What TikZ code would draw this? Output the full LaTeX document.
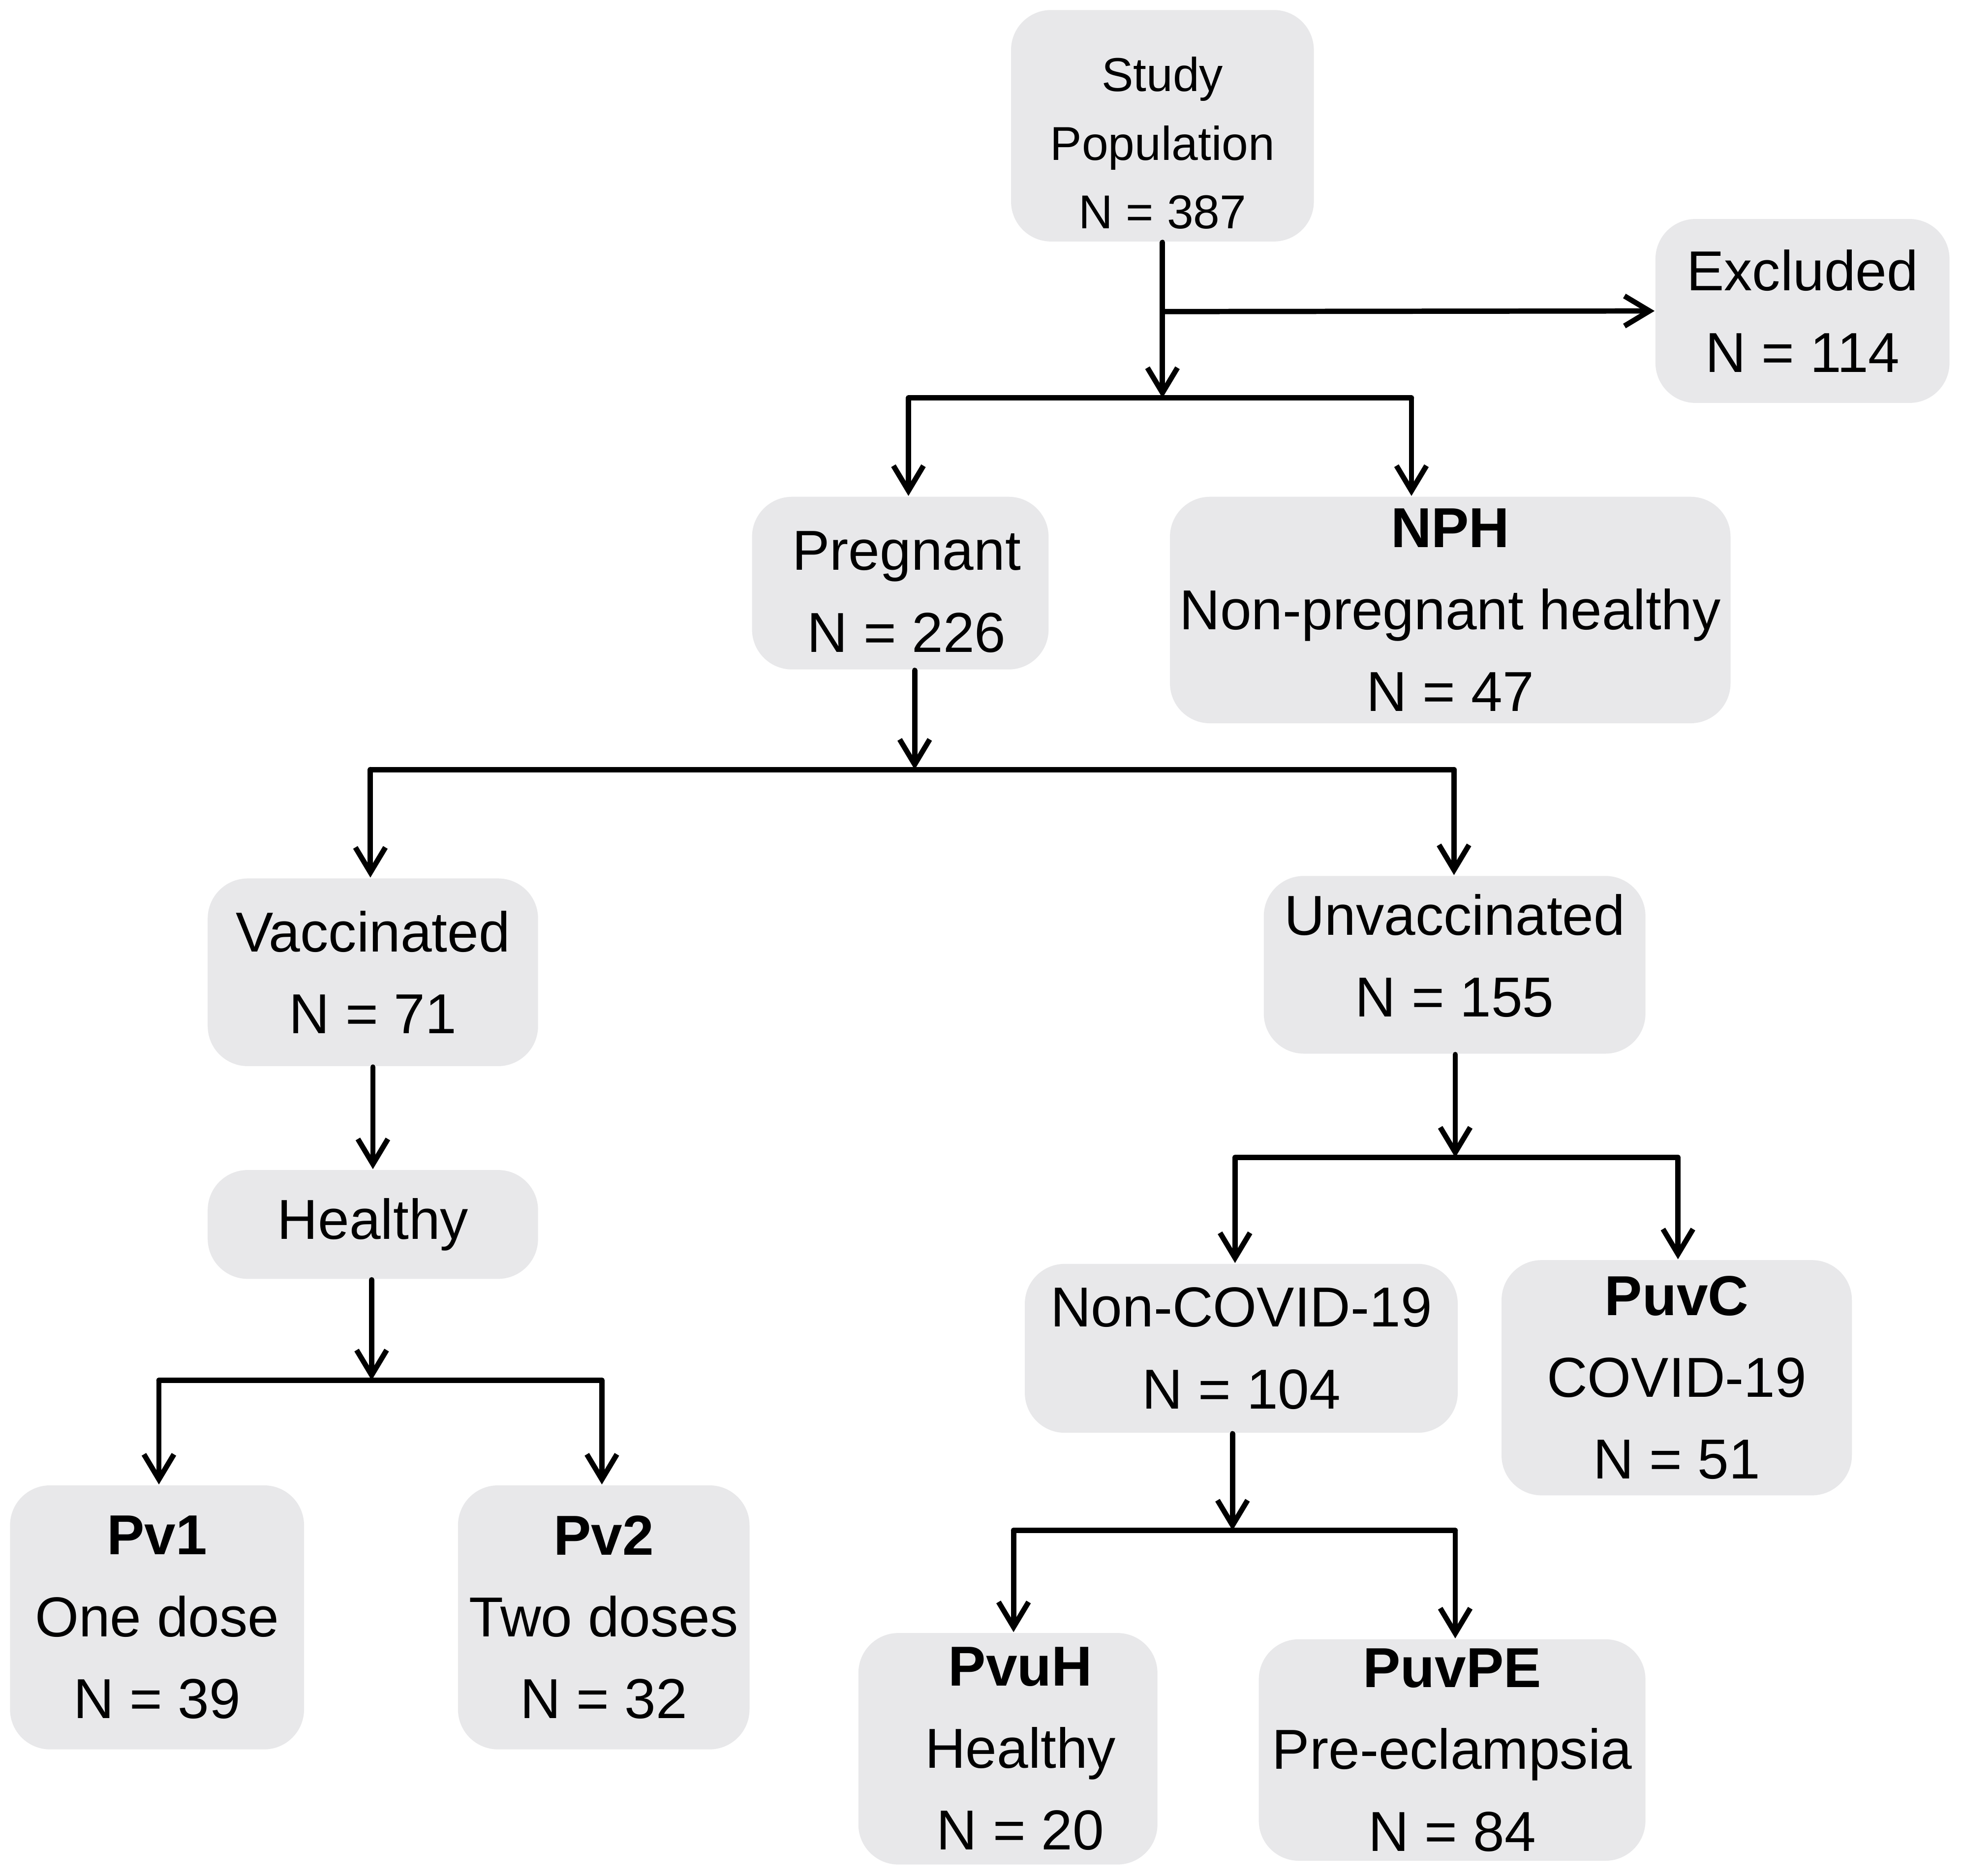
\documentclass[tikz,border=0pt]{standalone}
\usepackage{fontspec}
\setmainfont{Liberation Sans}
\usetikzlibrary{arrows.meta}
\definecolor{boxgray}{HTML}{E8E8EA}
\tikzset{
  box/.style={fill=boxgray, rounded corners=0.32cm, inner sep=0pt, align=center,
    font=\fontsize{12.8}{18.6}\selectfont},
  conn/.style={line width=1.2pt, line cap=round, line join=round},
  arr/.style={conn, -{Straight Barb[length=0.2cm, width=0.24cm, line width=1.2pt]}}
}
\begin{document}
\begin{tikzpicture}
\useasboundingbox[fill=white] (0,0) rectangle (15.68,-14.99);
% boxes
\node[box, minimum width=2.42cm, minimum height=1.85cm, font=\fontsize{10.8}{15.6}\selectfont] (study) at (9.29,-1.005) {\rule{0pt}{0.55cm}Study\\Population\\N = 387};
\node[box, minimum width=2.35cm, minimum height=1.47cm] (excl) at (14.405,-2.485) {Excluded\\N = 114};
\node[box, minimum width=2.37cm, minimum height=1.38cm] (preg) at (7.195,-4.66) {\rule{0pt}{0.45cm}\hspace{0.1cm}Pregnant\\\hspace{0.1cm}N = 226};
\node[box, minimum width=4.48cm, minimum height=1.81cm] (nph) at (11.59,-4.875) {\textbf{NPH}\\Non-pregnant healthy\\N = 47};
\node[box, minimum width=2.64cm, minimum height=1.50cm] (vacc) at (2.98,-7.77) {Vaccinated\\N = 71};
\node[box, minimum width=3.05cm, minimum height=1.42cm] (unvacc) at (11.625,-7.71) {Unvaccinated\\N = 155\rule[-0.15cm]{0pt}{0.1cm}};
\node[box, minimum width=2.64cm, minimum height=0.87cm] (healthy) at (2.98,-9.785) {Healthy};
\node[box, minimum width=2.35cm, minimum height=2.11cm] (pv1) at (1.255,-12.925) {\textbf{Pv1}\\One dose\\N = 39};
\node[box, minimum width=2.33cm, minimum height=2.11cm] (pv2) at (4.825,-12.925) {\textbf{Pv2}\\Two doses\\N = 32};
\node[box, minimum width=3.46cm, minimum height=1.35cm] (noncov) at (9.92,-10.775) {Non-COVID-19\\N = 104};
\node[box, minimum width=2.80cm, minimum height=1.88cm] (puvc) at (13.40,-11.01) {\textbf{PuvC}\\COVID-19\\N = 51};
\node[box, minimum width=2.39cm, minimum height=1.85cm] (pvuh) at (8.055,-13.975) {\hspace{0.2cm}\textbf{PvuH}\\\hspace{0.2cm}Healthy\\\hspace{0.2cm}N = 20};
\node[box, minimum width=3.09cm, minimum height=1.77cm] (puvpe) at (11.605,-13.985) {\textbf{PuvPE}\\Pre-eclampsia\\N = 84};
% junctions
\coordinate (j1) at (9.29,-3.18);
\coordinate (j1L) at (7.26,-3.18);
\coordinate (j1R) at (11.28,-3.18);
\coordinate (jx) at (9.29,-2.49);
\coordinate (j2) at (7.31,-6.15);
\coordinate (j2L) at (2.96,-6.15);
\coordinate (j2R) at (11.62,-6.15);
\coordinate (j3) at (2.97,-11.03);
\coordinate (j3L) at (1.27,-11.03);
\coordinate (j3R) at (4.81,-11.03);
\coordinate (j4) at (11.63,-9.25);
\coordinate (j4L) at (9.87,-9.25);
\coordinate (j4R) at (13.41,-9.25);
\coordinate (j5) at (9.85,-12.23);
\coordinate (j5L) at (8.10,-12.23);
\coordinate (j5R) at (11.63,-12.23);
% connectors
\draw[arr] (study.south) -- (j1);
\draw[arr] (jx) -- (excl.west);
\draw[conn] (j1L) -- (j1R);
\draw[arr] (j1L) -- (j1L |- preg.north);
\draw[arr] (j1R) -- (j1R |- nph.north);

\draw[arr] (preg.south -| j2) -- (j2);
\draw[conn] (j2L) -- (j2R);
\draw[arr] (j2L) -- (j2L |- vacc.north);
\draw[arr] (j2R) -- (j2R |- unvacc.north);

\draw[arr] (vacc.south) -- (healthy.north);

\draw[arr] (healthy.south -| j3) -- (j3);
\draw[conn] (j3L) -- (j3R);
\draw[arr] (j3L) -- (j3L |- pv1.north);
\draw[arr] (j3R) -- (j3R |- pv2.north);

\draw[arr] (unvacc.south -| j4) -- (j4);
\draw[conn] (j4L) -- (j4R);
\draw[arr] (j4L) -- (j4L |- noncov.north);
\draw[arr] (j4R) -- (j4R |- puvc.north);

\draw[arr] (noncov.south -| j5) -- (j5);
\draw[conn] (j5L) -- (j5R);
\draw[arr] (j5L) -- (j5L |- pvuh.north);
\draw[arr] (j5R) -- (j5R |- puvpe.north);
\end{tikzpicture}
\end{document}
